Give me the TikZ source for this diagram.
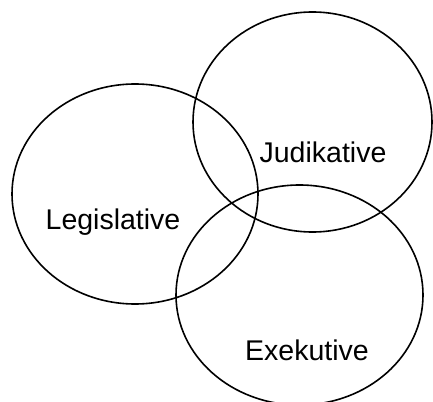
\documentclass[tikz,border=0pt]{standalone}
\usepackage{fontspec}
\setmainfont{Liberation Sans}
\usetikzlibrary{shapes.geometric}

\begin{document}
\begin{tikzpicture}[x=1pt,y=-1pt]
    \tikzset{power/.style={
        ellipse, draw, line width=1.6pt, inner sep=0pt, minimum height=220pt
      },
      powerlabel/.style={font=\fontsize{28.5}{32}\selectfont, inner sep=0pt}
    }

    \useasboundingbox (0,0) rectangle (433,401);

    \node[power, minimum width=239pt] (jud) at (312.5,122) {};
    \node[power, minimum width=246pt] (leg) at (135,194) {};
    \node[power, minimum width=247pt] (exe) at (299.5,295) {};

    \node[powerlabel] (judtext) at (323,152) {Judikative};
    \node[powerlabel] (legtext) at (113,222) {Legislative};
    \node[powerlabel] (exetext) at (307,350) {Exekutive};
\end{tikzpicture}
\end{document}
